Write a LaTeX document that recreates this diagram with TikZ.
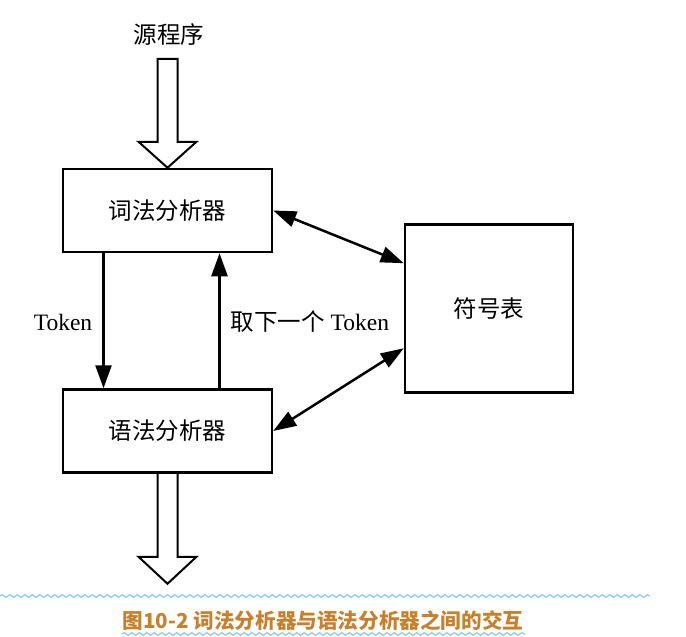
\documentclass[tikz,border=0pt]{standalone}
\usepackage{fontspec}
\setmainfont{Liberation Serif}
\newfontfamily\cjk{Noto Sans CJK SC}
\usepackage{tikz}
\usetikzlibrary{arrows.meta,decorations.pathmorphing}

\definecolor{capcolor}{HTML}{C8802C}
\definecolor{wavecolor}{HTML}{86C8F6}

\tikzset{
    box/.style={draw, line width=2.5pt, minimum width=209pt, minimum height=83pt, font=\cjk\fontsize{23.5}{25}\selectfont},
    flow/.style={line width=2.5pt, -{Triangle[length=23pt,width=16pt]}},
    both/.style={line width=2.5pt, {Triangle[length=23pt,width=16pt]}-{Triangle[length=23pt,width=16pt]}},
    hollow/.style={draw, line width=2pt, line join=miter},
    wave/.style={wavecolor, line width=1.2pt, decorate, decoration={snake, segment length=7.5pt, amplitude=1.3pt}}
}

\begin{document}
\begin{tikzpicture}[x=1pt, y=-1pt]
            \useasboundingbox (0,0) rectangle (686,637);
            \fontsize{23.5}{25}\selectfont

            \node[box] (lexer) at (167.5,210.5) {词法分析器};
            \node[box] (parser) at (167.5,431) {语法分析器};
            \node[box, minimum width=168pt, minimum height=168pt] (symtab) at (489,308.5) {符号表};
            \node[font=\cjk\fontsize{23.5}{25}\selectfont] (source) at (169,35) {源程序};

            \draw[hollow] (lexer.north) -- ++(-29,-26) -- ++(19,0) -- ++(0,-83) -- ++(20,0) -- ++(0,83) -- ++(19,0) -- cycle;
            \draw[hollow] ([xshift=-10pt]parser.south) -- ++(0,83) -- ++(-19,0) -- ++(29,27) -- ++(29,-27) -- ++(-19,0) -- ++(0,-83);

            \draw[flow] ([xshift=-64pt]lexer.south) -- ([xshift=-64pt]parser.north);
            \draw[flow] ([xshift=52pt]parser.north) -- ([xshift=52pt]lexer.north |- lexer.south);
            \node (down) at (63,322) {Token};
            \node (up) at (310,322) {{\cjk\fontsize{23.5}{25}\selectfont 取下一个} Token};

            \draw[both] (lexer.east) -- (symtab.152);
            \draw[both] (parser.east) -- (symtab.205);

            \draw[wave] (0,596) -- (650,596);
            \node[font=\cjk\bfseries\fontsize{20.6}{22}\selectfont, text=capcolor] (caption) at (323,621) {图10-2 词法分析器与语法分析器之间的交互};
            \draw[wave] (122,634) -- (525,634);
        \end{tikzpicture}
\end{document}
